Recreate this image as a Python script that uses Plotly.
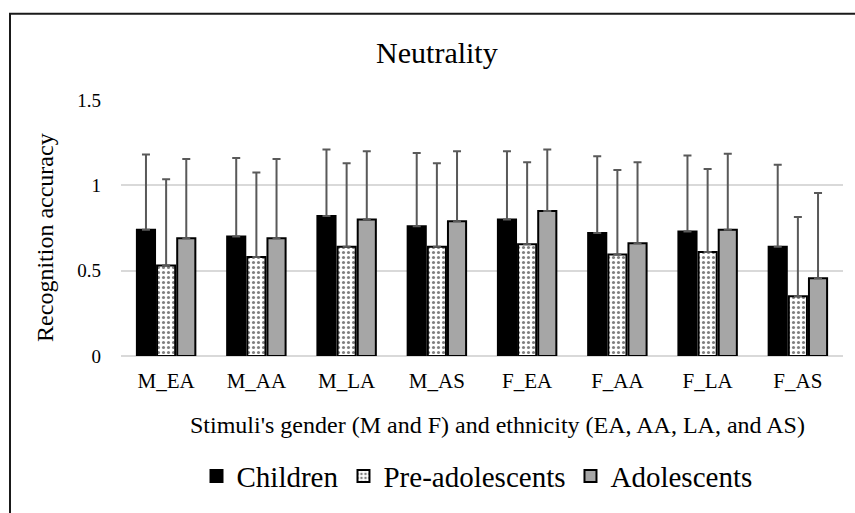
import plotly.graph_objects as go

categories = ["M_EA", "M_AA", "M_LA", "M_AS", "F_EA", "F_AA", "F_LA", "F_AS"]
children = [0.74, 0.70, 0.82, 0.76, 0.80, 0.72, 0.73, 0.64]
children_sd = [0.44, 0.46, 0.39, 0.43, 0.40, 0.45, 0.445, 0.48]
pre_adolescents = [0.53, 0.58, 0.64, 0.64, 0.655, 0.595, 0.61, 0.35]
pre_adolescents_sd = [0.505, 0.495, 0.49, 0.49, 0.48, 0.495, 0.485, 0.465]
adolescents = [0.69, 0.69, 0.80, 0.79, 0.85, 0.66, 0.74, 0.455]
adolescents_sd = [0.465, 0.465, 0.40, 0.41, 0.36, 0.475, 0.445, 0.50]

FONT = "Liberation Serif, Times New Roman, serif"
W, H = 855, 513
ML, MR, MT, MB = 121, 12, 100, 155
PW, PH = W - ML - MR, H - MT - MB


def px_to_paper_x(px):
    return (px - ML) / PW


def px_to_paper_y(py):
    return (H - MB - py) / PH


def err(sd):
    return dict(type="data", symmetric=False, array=sd, arrayminus=[0] * len(sd),
                color="#595959", thickness=2, width=4)


fig = go.Figure()
fig.add_trace(go.Bar(
    name="Children", x=categories, y=children, error_y=err(children_sd),
    marker=dict(color="#000000", line=dict(color="#000000", width=2)),
))
fig.add_trace(go.Bar(
    name="Pre-adolescents", x=categories, y=pre_adolescents, error_y=err(pre_adolescents_sd),
    marker=dict(color="#ffffff", line=dict(color="#000000", width=2),
                pattern=dict(shape=".", fgcolor="#000000", bgcolor="#ffffff",
                             size=5, solidity=0.3)),
))
fig.add_trace(go.Bar(
    name="Adolescents", x=categories, y=adolescents, error_y=err(adolescents_sd),
    marker=dict(color="#a6a6a6", line=dict(color="#000000", width=2)),
))

fig.update_layout(
    width=W, height=H,
    margin=dict(l=ML, r=MR, t=MT, b=MB),
    paper_bgcolor="white", plot_bgcolor="white",
    font=dict(family=FONT, color="#000000"),
    barmode="group", bargap=0.33, bargroupgap=0.1,
    title=dict(text="Neutrality", x=0.511, xanchor="center", y=1 - 52 / H, yanchor="middle",
               font=dict(family=FONT, size=30, color="#000000")),
    showlegend=True,
    legend=dict(orientation="h", x=px_to_paper_x(477), xanchor="center",
                y=px_to_paper_y(479), yanchor="middle",
                font=dict(family=FONT, size=29, color="#000000"),
                itemsizing="constant", bgcolor="rgba(0,0,0,0)"),
    xaxis=dict(showgrid=False, showline=False, ticks="", ticklabelstandoff=10,
               tickfont=dict(family=FONT, size=21, color="#000000")),
    yaxis=dict(range=[0, 1.5], dtick=0.5, showgrid=True, gridcolor="#d9d9d9", gridwidth=1.5,
               zeroline=True, zerolinecolor="#d9d9d9", zerolinewidth=1.5,
               showline=False, ticks="", ticklabelstandoff=19,
               tickfont=dict(family=FONT, size=19, color="#000000")),
    annotations=[
        dict(text="Recognition accuracy", xref="paper", yref="paper",
             x=px_to_paper_x(45), y=px_to_paper_y(239), xanchor="center", yanchor="middle",
             textangle=-90, showarrow=False, font=dict(family=FONT, size=24, color="#000000")),
        dict(text="Stimuli's gender (M and F) and ethnicity (EA, AA, LA, and AS)",
             xref="paper", yref="paper",
             x=px_to_paper_x(497), y=px_to_paper_y(428), xanchor="center", yanchor="middle",
             showarrow=False, font=dict(family=FONT, size=24, color="#000000")),
    ],
    shapes=[
        dict(type="rect", xref="paper", yref="paper",
             x0=px_to_paper_x(10), y0=px_to_paper_y(13),
             x1=px_to_paper_x(W + 20), y1=px_to_paper_y(H + 20),
             line=dict(color="#1a1a1a", width=2), fillcolor="rgba(0,0,0,0)", layer="below"),
    ],
)

fig.write_html("out.html")
